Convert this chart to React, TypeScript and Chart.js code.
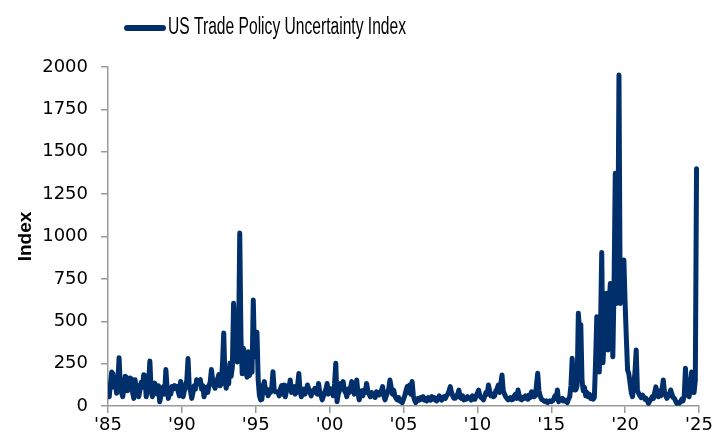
import React, { useEffect, useRef } from "react";
import { Chart, registerables } from "chart.js";

Chart.register(...registerables);

// ---- Data (monthly, Jan 1985 - Dec 2024) ----
const START_YEAR = 1985;
const SERIES_LABEL = "US Trade Policy Uncertainty Index";
const Y_TITLE = "Index";
const X_TICK_YEARS = [1985, 1990, 1995, 2000, 2005, 2010, 2015, 2020, 2025];
const Y_TICKS = [0, 250, 500, 750, 1000, 1250, 1500, 1750, 2000];

const tpu1985to1989 = [
  90, 55, 130, 200, 190, 110, 140, 75, 150, 285, 120, 80,
  55, 110, 175, 170, 90, 120, 165, 160, 80, 45, 155, 100,
  120, 55, 95, 140, 110, 185, 180, 55, 90, 130, 265, 100,
  55, 90, 135, 100, 70, 120, 25, 60, 95, 115, 70, 215,
  110, 45, 90, 70, 115, 100, 120, 110, 115, 85, 60, 145,
];
const tpu1990to1994 = [
  100, 55, 90, 120, 150, 280, 110, 90, 45, 80, 120, 100,
  155, 130, 150, 155, 100, 120, 55, 90, 110, 80, 120, 140,
  215, 150, 120, 105, 140, 160, 185, 120, 130, 250, 430, 160,
  105, 150, 130, 252, 175, 230, 606, 480, 300, 260, 340, 1020,
  400, 190, 340, 300, 200, 170, 320, 180, 230, 200, 625, 290,
];
const tpu1995to1999 = [
  300, 435, 150, 60, 36, 40, 120, 144, 80, 100, 60, 80,
  80, 110, 202, 90, 84, 84, 84, 60, 100, 120, 70, 124,
  55, 90, 120, 100, 154, 80, 110, 114, 70, 80, 120, 192,
  90, 55, 80, 100, 70, 90, 124, 100, 84, 60, 90, 80,
  104, 90, 70, 133, 80, 60, 36, 60, 80, 100, 133, 70,
];
const tpu2000to2004 = [
  104, 80, 90, 60, 130, 252, 25, 70, 90, 133, 100, 144,
  90, 80, 55, 100, 80, 110, 144, 100, 70, 90, 153, 80,
  36, 70, 90, 60, 94, 80, 133, 90, 70, 55, 80, 60,
  70, 50, 84, 70, 65, 80, 90, 114, 60, 36, 60, 80,
  100, 153, 110, 70, 94, 60, 45, 36, 50, 30, 25, 20,
];
const tpu2005to2009 = [
  40, 60, 90, 114, 80, 124, 70, 144, 60, 35, 20, 40,
  45, 35, 50, 40, 55, 35, 45, 30, 50, 40, 35, 55,
  40, 50, 35, 30, 45, 60, 40, 35, 50, 55, 45, 60,
  70, 90, 114, 80, 60, 45, 45, 60, 70, 94, 50, 45,
  60, 36, 50, 40, 55, 45, 45, 35, 60, 50, 40, 60,
];
const tpu2010to2014 = [
  75, 94, 60, 50, 45, 36, 60, 80, 70, 124, 90, 60,
  70, 55, 60, 90, 100, 124, 80, 130, 183, 90, 70, 55,
  45, 36, 40, 50, 36, 40, 60, 70, 45, 94, 60, 40,
  36, 50, 45, 60, 55, 40, 65, 50, 84, 70, 55, 60,
  120, 193, 90, 60, 40, 36, 30, 25, 30, 20, 25, 30,
];
const tpu2015to2019 = [
  25, 30, 40, 60, 45, 94, 25, 40, 35, 45, 30, 35,
  30, 20, 40, 55, 120, 281, 150, 95, 95, 120, 547, 440,
  480, 150, 90, 110, 60, 80, 55, 70, 45, 60, 40, 50,
  260, 527, 290, 200, 450, 905, 255, 400, 550, 665, 330, 600,
  723, 665, 290, 700, 1373, 605, 800, 1953, 605, 700, 650, 861,
];
const tpu2020to2024 = [
  605, 400, 212, 190, 134, 80, 55, 120, 200, 330, 90, 75,
  60, 50, 65, 55, 40, 45, 30, 16, 30, 40, 55, 45,
  80, 113, 70, 55, 90, 60, 100, 153, 80, 60, 45, 70,
  60, 94, 70, 50, 45, 30, 16, 20, 16, 25, 40, 30,
  60, 222, 90, 70, 55, 120, 200, 80, 80, 150, 1400, 1350,
];

const tpuValues = [
  ...tpu1985to1989,
  ...tpu1990to1994,
  ...tpu1995to1999,
  ...tpu2000to2004,
  ...tpu2005to2009,
  ...tpu2010to2014,
  ...tpu2015to2019,
  ...tpu2020to2024,
];

// ---- Styles ----
const LINE_COLOR = "#002f6c";
const AXIS_COLOR = "#9a9a9a";
const TEXT_COLOR = "#000000";
const TICK_FONT = { family: '"DejaVu Sans", "Liberation Sans", Arial, sans-serif', size: 18 };

const legendPlugin = {
  id: "customLegend",
  afterDraw(chart: any) {
    const ctx = chart.ctx;
    ctx.save();
    ctx.strokeStyle = LINE_COLOR;
    ctx.lineWidth = 6;
    ctx.lineCap = "round";
    ctx.beginPath();
    ctx.moveTo(127, 28);
    ctx.lineTo(163, 28);
    ctx.stroke();
    ctx.font = '23px "Liberation Sans Narrow", "Liberation Sans", Arial, sans-serif';
    ctx.fillStyle = TEXT_COLOR;
    ctx.textBaseline = "middle";
    ctx.textAlign = "left";
    const w = ctx.measureText(SERIES_LABEL).width;
    const target = 238;
    ctx.translate(168, 28);
    ctx.scale(target / w, 1);
    ctx.fillText(SERIES_LABEL, 0, 0);
    ctx.restore();
  },
};

export default function App() {
  const canvasRef = useRef<HTMLCanvasElement | null>(null);

  useEffect(() => {
    if (!canvasRef.current) return;
    const points = tpuValues.map((v, i) => ({ x: START_YEAR + i / 12, y: v }));
    const chart = new Chart(canvasRef.current, {
      type: "line",
      data: {
        datasets: [
          {
            label: SERIES_LABEL,
            data: points,
            borderColor: LINE_COLOR,
            backgroundColor: LINE_COLOR,
            borderWidth: 5,
            pointRadius: 0,
            borderJoinStyle: "round",
            borderCapStyle: "round",
            tension: 0,
            fill: false,
          },
        ],
      },
      options: {
        responsive: false,
        animation: false,
        layout: { padding: { top: 67, right: 16, bottom: 0, left: 0 } },
        plugins: {
          legend: { display: false },
          tooltip: { enabled: false },
        },
        scales: {
          x: {
            type: "linear",
            min: X_TICK_YEARS[0],
            max: X_TICK_YEARS[X_TICK_YEARS.length - 1],
            afterBuildTicks: (scale: any) => {
              scale.ticks = X_TICK_YEARS.map((v) => ({ value: v }));
            },
            ticks: {
              autoSkip: false,
              maxRotation: 0,
              padding: 2,
              color: TEXT_COLOR,
              font: TICK_FONT,
              callback: (v: any) => "'" + String(v).slice(2),
            },
            grid: {
              display: true,
              drawOnChartArea: false,
              drawTicks: true,
              tickLength: 7,
              color: AXIS_COLOR,
              lineWidth: 1.5,
            },
            border: { display: true, color: AXIS_COLOR, width: 1.5 },
            afterFit: (scale: any) => {
              scale.height = 36;
            },
          },
          y: {
            min: Y_TICKS[0],
            max: Y_TICKS[Y_TICKS.length - 1],
            afterBuildTicks: (scale: any) => {
              scale.ticks = Y_TICKS.map((v) => ({ value: v }));
            },
            ticks: {
              padding: 13,
              color: TEXT_COLOR,
              font: TICK_FONT,
              callback: (v: any) => String(v),
            },
            grid: {
              display: true,
              drawOnChartArea: false,
              drawTicks: true,
              tickLength: 7,
              color: AXIS_COLOR,
              lineWidth: 1.5,
            },
            border: { display: true, color: AXIS_COLOR, width: 1.5 },
            title: {
              display: true,
              text: Y_TITLE,
              color: TEXT_COLOR,
              font: { family: '"Liberation Sans", Arial, sans-serif', size: 19, weight: "bold" },
              padding: { top: 14, bottom: 0 },
            },
            afterFit: (scale: any) => {
              scale.width = 108;
            },
          },
        },
      },
      plugins: [legendPlugin],
    } as any);
    return () => chart.destroy();
  }, []);

  return (
    <div style={{ position: "fixed", left: 0, top: 0, width: 715, height: 442, background: "#fff" }}>
      <canvas ref={canvasRef} width={715} height={442} style={{ display: "block" }} />
    </div>
  );
}
